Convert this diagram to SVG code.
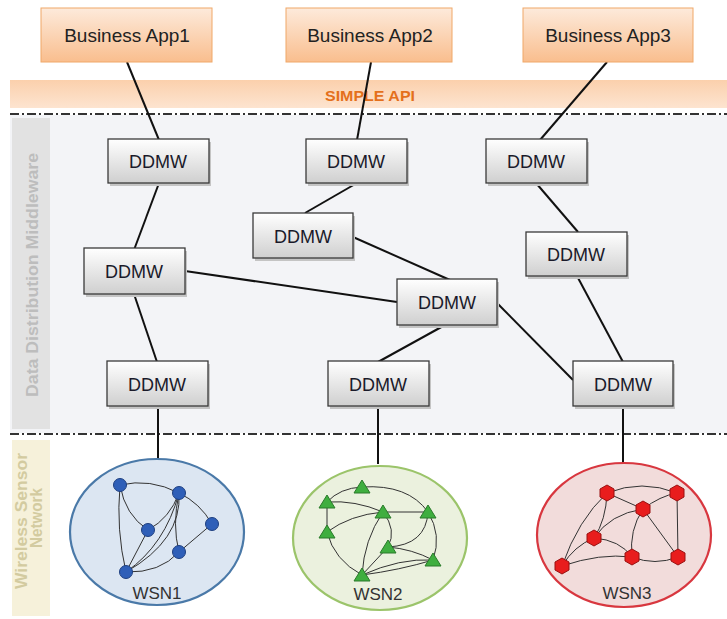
<svg xmlns="http://www.w3.org/2000/svg" width="727" height="619" viewBox="0 0 727 619">
<defs>
<linearGradient id="gApp" x1="0" y1="0" x2="0" y2="1"><stop offset="0" stop-color="#fdeadb"/><stop offset="1" stop-color="#f9be8e"/></linearGradient>
<linearGradient id="gApi" x1="0" y1="0" x2="0" y2="1"><stop offset="0" stop-color="#fbd0ac"/><stop offset="1" stop-color="#fde4d0"/></linearGradient>
<linearGradient id="gDd" x1="0" y1="0" x2="0" y2="1"><stop offset="0" stop-color="#ffffff"/><stop offset="1" stop-color="#cfcfcf"/></linearGradient>
<style>
.app{fill:url(#gApp);stroke:#f0a868;stroke-width:1}
.appt{font-family:"Liberation Sans",Arial,sans-serif;font-size:19px;fill:#222;text-anchor:middle}
.dd{fill:url(#gDd);stroke:#3a3a3a;stroke-width:1.3}
.sh{fill:#c4c4c4}
.ddt{font-family:"Liberation Sans",Arial,sans-serif;font-size:18px;fill:#1a1a2a;text-anchor:middle}
.con line{stroke:#111;stroke-width:2}
.dash{stroke:#333;stroke-width:2.2;stroke-dasharray:9 3 2 3}
.e{fill:none;stroke:#333;stroke-width:1}
.wt{font-family:"Liberation Sans",Arial,sans-serif;font-size:17px;fill:#333;text-anchor:middle}
.side{font-family:"Liberation Sans",Arial,sans-serif;font-weight:bold;text-anchor:middle}
.blue{fill:#2f5fb8;stroke:#1e3f80;stroke-width:1}
.green{fill:#3fae3f;stroke:#2a7a2a;stroke-width:1}
.red{fill:#e81d1d;stroke:#9a1010;stroke-width:1}
</style>
</defs>
<rect width="727" height="619" fill="#ffffff"/>
<g id="middleware-area">
<rect x="10" y="115" width="717" height="318" fill="#f3f4f7"/>
<rect x="12" y="118" width="38" height="311" fill="#e2e2e2"/>
<text class="side" transform="translate(38,275) rotate(-90)" font-size="17" fill="#bdbdbd" textLength="244" lengthAdjust="spacingAndGlyphs">Data Distribution Middleware</text>
</g>
<g id="wsn-area">
<rect x="12" y="440" width="38" height="176" fill="#f6f1da"/>
<text class="side" transform="translate(27,521) rotate(-90)" font-size="16" fill="#d3cba0" textLength="136" lengthAdjust="spacingAndGlyphs">Wireless Sensor</text>
<text class="side" transform="translate(42,518) rotate(-90)" font-size="16" fill="#d3cba0" textLength="60" lengthAdjust="spacingAndGlyphs">Network</text>
</g>
<g id="simple-api">
<rect x="10" y="80" width="717" height="28" fill="url(#gApi)"/>
<text x="370" y="101" font-family="Liberation Sans,Arial,sans-serif" font-size="15" font-weight="bold" fill="#e4701c" text-anchor="middle" textLength="90" lengthAdjust="spacingAndGlyphs">SIMPLE API</text>
</g>
<g id="dividers">
<line class="dash" x1="10" y1="114" x2="727" y2="114"/>
<line class="dash" x1="10" y1="434" x2="727" y2="434"/>
</g>
<g id="connectors" class="con">
<line x1="127" y1="62" x2="159" y2="140"/>
<line x1="371" y1="62" x2="357" y2="140"/>
<line x1="607" y1="62" x2="540" y2="140"/>
<line x1="159" y1="183" x2="134" y2="250"/>
<line x1="134" y1="294" x2="157" y2="362"/>
<line x1="158" y1="406" x2="158" y2="460"/>
<line x1="357" y1="183" x2="305" y2="213"/>
<line x1="353" y1="237" x2="450" y2="280"/>
<line x1="185" y1="271" x2="397" y2="302"/>
<line x1="445" y1="325" x2="378" y2="362"/>
<line x1="497" y1="303" x2="573" y2="380"/>
<line x1="536" y1="183" x2="578" y2="232"/>
<line x1="577" y1="276" x2="623" y2="362"/>
<line x1="378" y1="406" x2="378" y2="464"/>
<line x1="623" y1="406" x2="623" y2="463"/>
</g>
<g id="app1"><rect class="app" x="41" y="8" width="171" height="54"/><text class="appt" x="127" y="42">Business App1</text></g>
<g id="app2"><rect class="app" x="286" y="8" width="166" height="54"/><text class="appt" x="370" y="42">Business App2</text></g>
<g id="app3"><rect class="app" x="523" y="8" width="170" height="54"/><text class="appt" x="608" y="42">Business App3</text></g>
<g id="ddmw1"><rect class="sh" x="110" y="142" width="101" height="44"/><rect class="dd" x="108" y="139" width="101" height="44"/><text class="ddt" x="158" y="168">DDMW</text></g>
<g id="ddmw2"><rect class="sh" x="308" y="142" width="101" height="44"/><rect class="dd" x="306" y="139" width="101" height="44"/><text class="ddt" x="356" y="168">DDMW</text></g>
<g id="ddmw3"><rect class="sh" x="488" y="142" width="101" height="44"/><rect class="dd" x="486" y="139" width="101" height="44"/><text class="ddt" x="536" y="168">DDMW</text></g>
<g id="ddmw4"><rect class="sh" x="255" y="216" width="100" height="45"/><rect class="dd" x="253" y="213" width="100" height="45"/><text class="ddt" x="303" y="243">DDMW</text></g>
<g id="ddmw5"><rect class="sh" x="86" y="251" width="101" height="46"/><rect class="dd" x="84" y="248" width="101" height="46"/><text class="ddt" x="134" y="278">DDMW</text></g>
<g id="ddmw6"><rect class="sh" x="528" y="235" width="101" height="44"/><rect class="dd" x="526" y="232" width="101" height="44"/><text class="ddt" x="576" y="261">DDMW</text></g>
<g id="ddmw7"><rect class="sh" x="399" y="282" width="100" height="46"/><rect class="dd" x="397" y="279" width="100" height="46"/><text class="ddt" x="447" y="309">DDMW</text></g>
<g id="ddmw8"><rect class="sh" x="109" y="364" width="101" height="45"/><rect class="dd" x="107" y="361" width="101" height="45"/><text class="ddt" x="157" y="391">DDMW</text></g>
<g id="ddmw9"><rect class="sh" x="330" y="364" width="101" height="45"/><rect class="dd" x="328" y="361" width="101" height="45"/><text class="ddt" x="378" y="391">DDMW</text></g>
<g id="ddmw10"><rect class="sh" x="575" y="364" width="100" height="45"/><rect class="dd" x="573" y="361" width="100" height="45"/><text class="ddt" x="623" y="391">DDMW</text></g>
<g id="wsn1">
<ellipse cx="157" cy="532" rx="87" ry="73" fill="#dce6f2" stroke="#4a79a8" stroke-width="2.2"/>
<path class="e" d="M120,485 Q150,478 179,493 M120,485 Q125,515 148,530 M120,485 Q116,530 126,572 M179,493 Q170,518 148,530 M179,493 Q165,545 126,572 M179,493 Q182,540 126,572 M179,493 Q172,525 179,552 M179,493 Q200,503 212,524 M212,524 L179,552 M179,552 Q160,573 126,572 M148,530 L126,572"/>
<circle class="blue" cx="120" cy="485" r="6.5"/><circle class="blue" cx="179" cy="493" r="6.5"/><circle class="blue" cx="148" cy="530" r="6.5"/><circle class="blue" cx="212" cy="524" r="6.5"/><circle class="blue" cx="179" cy="552" r="6.5"/><circle class="blue" cx="126" cy="572" r="6.5"/>
<text class="wt" x="157" y="599">WSN1</text>
</g>
<g id="wsn2">
<ellipse cx="380" cy="538" rx="87" ry="72" fill="#ebf1de" stroke="#9bc46a" stroke-width="2.2"/>
<path class="e" d="M362,487 Q340,488 327,502 M362,487 Q408,484 428,512 M327,502 Q355,500 383,512 M327,502 L327,532 M383,512 L428,512 M383,512 Q350,515 327,532 M383,512 Q397,530 388,547 M383,512 Q364,540 362,575 M428,512 Q426,545 388,547 M428,512 Q442,535 433,560 M388,547 Q412,549 433,560 M327,532 Q334,560 362,575 M388,547 L362,575 M433,560 Q400,558 362,575 M433,560 Q400,570 362,575"/>
<polygon class="green" points="362,480 354,493 370,493"/><polygon class="green" points="327,495 319,508 335,508"/><polygon class="green" points="383,505 375,518 391,518"/><polygon class="green" points="428,505 420,518 436,518"/><polygon class="green" points="327,525 319,538 335,538"/><polygon class="green" points="388,540 380,553 396,553"/><polygon class="green" points="433,553 425,566 441,566"/><polygon class="green" points="362,568 354,581 370,581"/>
<text class="wt" x="378" y="600">WSN2</text>
</g>
<g id="wsn3">
<ellipse cx="624" cy="535" rx="87" ry="72" fill="#f2dcdb" stroke="#d8373f" stroke-width="2.2"/>
<path class="e" d="M607,493 Q642,479 677,493 M607,493 L643,509 M643,509 Q660,496 677,493 M677,493 L678,557 M607,493 Q606,520 594,538 M607,493 Q578,520 562,566 M643,509 Q610,514 594,538 M643,509 Q629,530 632,557 M643,509 L678,557 M594,538 Q620,540 632,557 M594,538 Q574,546 562,566 M562,566 Q600,553 632,557 M632,557 Q655,566 678,557"/>
<polygon class="red" points="607,485 614,489 614,497 607,501 600,497 600,489"/><polygon class="red" points="677,485 684,489 684,497 677,501 670,497 670,489"/><polygon class="red" points="643,501 650,505 650,513 643,517 636,513 636,505"/><polygon class="red" points="594,530 601,534 601,542 594,546 587,542 587,534"/><polygon class="red" points="632,549 639,553 639,561 632,565 625,561 625,553"/><polygon class="red" points="678,549 685,553 685,561 678,565 671,561 671,553"/><polygon class="red" points="562,558 569,562 569,570 562,574 555,570 555,562"/>
<text class="wt" x="627" y="599">WSN3</text>
</g>
</svg>
